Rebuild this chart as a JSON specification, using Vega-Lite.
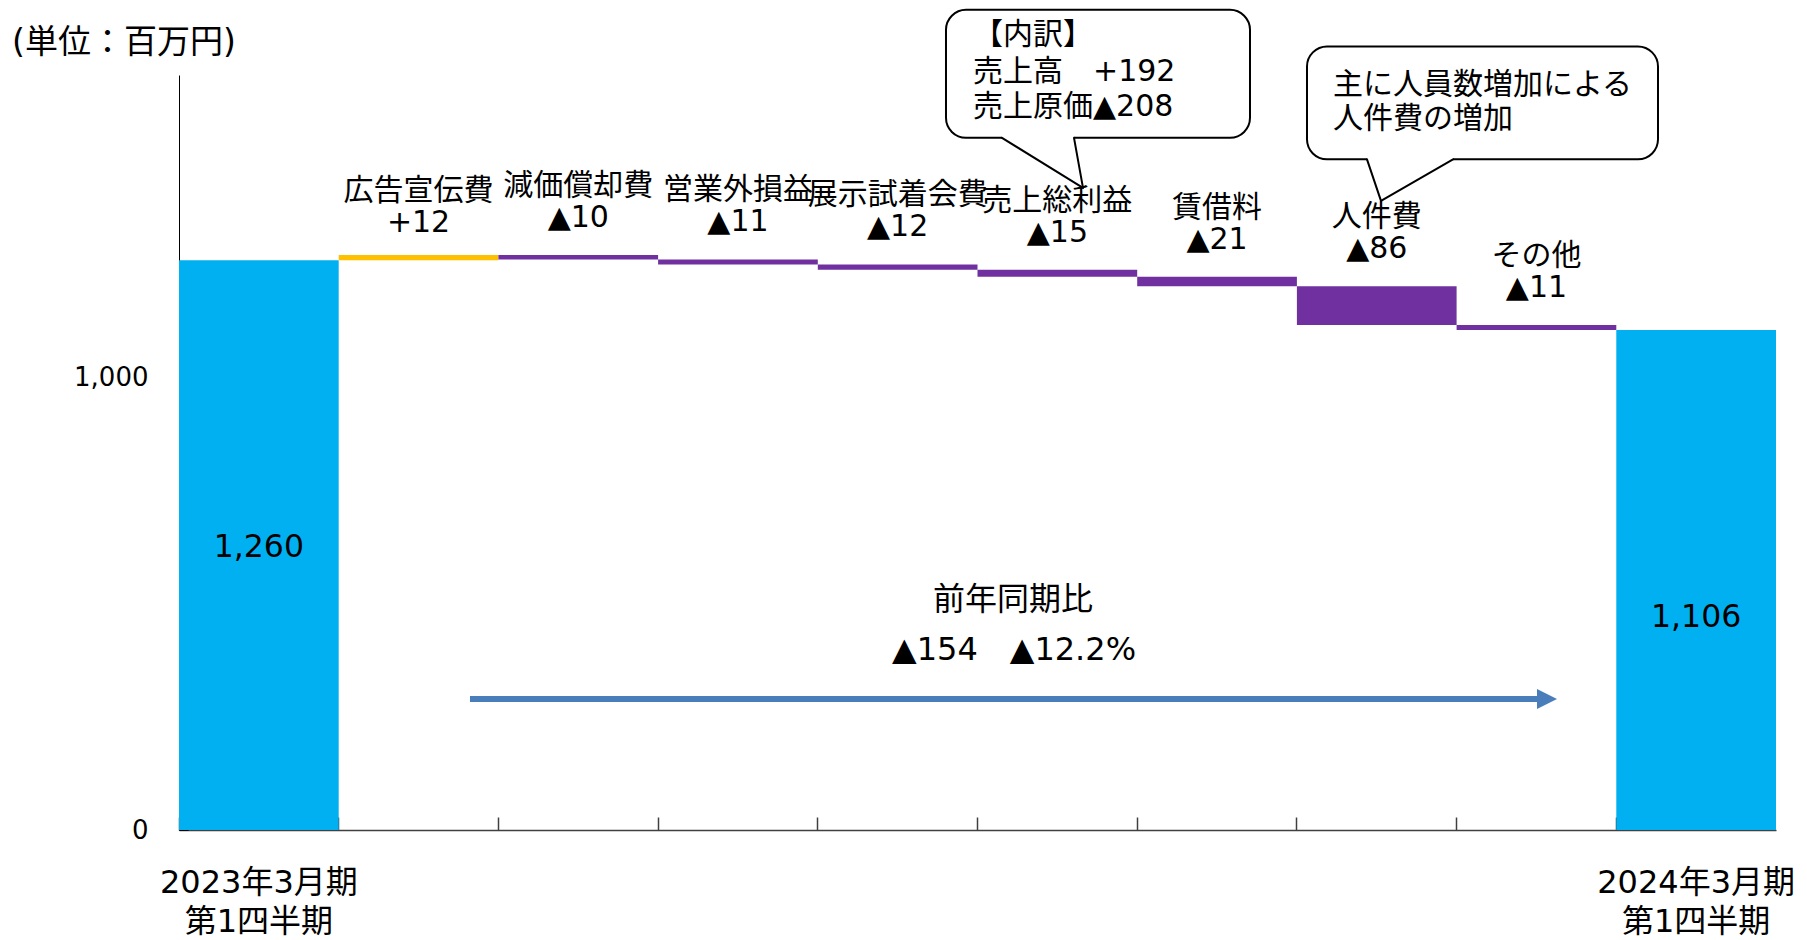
{
  "$schema": "https://vega.github.io/schema/vega-lite/v6.json",
  "width": 1597,
  "height": 755,
  "autosize": {"type": "none"},
  "padding": {"left": 179, "top": 75, "right": 31, "bottom": 110},
  "background": "white",
  "config": {
    "view": {"stroke": null},
    "font": "DejaVu Sans, Noto Sans CJK JP",
    "text": {"font": "DejaVu Sans, Noto Sans CJK JP", "color": "black"},
    "axisY": {
      "grid": false,
      "domainColor": "black",
      "domainWidth": 1,
      "tickColor": "black",
      "tickSize": -9,
      "labelPadding": 40,
      "labelFont": "DejaVu Sans",
      "labelFontSize": 26,
      "labelColor": "black"
    }
  },
  "datasets": {
    "steps": [
      {"item": "2023年3月期 第1四半期", "start": 0, "end": 1260, "kind": "total", "delta": ""},
      {"item": "広告宣伝費", "start": 1260, "end": 1272, "kind": "plus", "delta": "+12"},
      {"item": "減価償却費", "start": 1272, "end": 1262, "kind": "minus", "delta": "▲10"},
      {"item": "営業外損益", "start": 1262, "end": 1251, "kind": "minus", "delta": "▲11"},
      {"item": "展示試着会費", "start": 1251, "end": 1239, "kind": "minus", "delta": "▲12"},
      {"item": "売上総利益", "start": 1239, "end": 1224, "kind": "minus", "delta": "▲15"},
      {"item": "賃借料", "start": 1224, "end": 1203, "kind": "minus", "delta": "▲21"},
      {"item": "人件費", "start": 1203, "end": 1117, "kind": "minus", "delta": "▲86"},
      {"item": "その他", "start": 1117, "end": 1106, "kind": "minus", "delta": "▲11"},
      {"item": "2024年3月期 第1四半期", "start": 0, "end": 1106, "kind": "total", "delta": ""}
    ],
    "boxes": [
      {"x1": 4.8027, "x2": 6.7063, "y1": 1814.2, "y2": 1531.0},
      {"x1": 7.0632, "x2": 9.2611, "y1": 1733.0, "y2": 1483.4}
    ],
    "gaps": [
      {"x1": 5.1534, "x2": 5.6043, "y1": 1531.0, "y2": 1531.0},
      {"x1": 7.4389, "x2": 7.9775, "y1": 1483.4, "y2": 1483.4}
    ],
    "edges": [
      {"x1": 5.1534, "y1": 1531.0, "x2": 5.6606, "y2": 1420.4},
      {"x1": 5.6043, "y1": 1531.0, "x2": 5.6606, "y2": 1420.4},
      {"x1": 7.4389, "y1": 1483.4, "x2": 7.5266, "y2": 1391.6},
      {"x1": 7.9775, "y1": 1483.4, "x2": 7.5266, "y2": 1391.6}
    ],
    "notes": [
      {"x": 4.972, "y": 1758.8, "text": "【内訳】"},
      {"x": 4.972, "y": 1677.0, "text": "売上高　+192"},
      {"x": 4.972, "y": 1599.6, "text": "売上原価▲208"},
      {"x": 7.226, "y": 1648.2, "text": "主に人員数増加による"},
      {"x": 7.226, "y": 1573.0, "text": "人件費の増加"}
    ],
    "unit": [
      {"x": -1.045, "y": 1741.0, "text": "(単位：百万円)"}
    ],
    "center": [
      {"x": 5.222, "y": 508.8, "text": "前年同期比"},
      {"x": 5.229, "y": 398.2, "text": "▲154　▲12.2%"}
    ],
    "arrow": [
      {"x1": 1.822, "x2": 8.51, "hx": 8.566, "y": 289.8}
    ]
  },
  "layer": [
    {
      "data": {"name": "steps"},
      "encoding": {
        "x": {
          "field": "item",
          "type": "nominal",
          "sort": null,
          "scale": {
            "domain": ["2023年3月期 第1四半期", "広告宣伝費", "減価償却費", "営業外損益", "展示試着会費", "売上総利益", "賃借料", "人件費", "その他", "2024年3月期 第1四半期"],
            "paddingInner": 0,
            "paddingOuter": 0
          },
          "axis": {
            "title": null,
            "orient": "bottom",
            "bandPosition": 0,
            "tickSize": -13,
            "labelPadding": 50,
            "labelAngle": 0,
            "labelBaseline": "top",
            "labelLimit": 600,
            "labelExpr": "indexof(datum.label, '四半期') >= 0 ? split(datum.label, ' ') : ''",
            "labelFont": "DejaVu Sans, Noto Sans CJK JP",
            "labelFontSize": 32,
            "labelLineHeight": 39,
            "labelColor": "black",
            "domainColor": "#404040",
            "domainWidth": 1.5,
            "tickColor": "#404040",
            "tickWidth": 1.5,
            "labelOverlap": false,
            "grid": false
          }
        }
      },
      "layer": [
        {
          "mark": {"type": "bar"},
          "encoding": {
            "y": {
              "field": "start",
              "type": "quantitative",
              "title": null,
              "scale": {"domain": [0, 1670], "nice": false},
              "axis": {"title": null, "values": [0, 1000], "labelExpr": "format(datum.value, ',')"}
            },
            "y2": {"field": "end"},
            "color": {
              "field": "kind",
              "type": "nominal",
              "scale": {"domain": ["total", "plus", "minus"], "range": ["#00B0F0", "#FFC000", "#7030A0"]},
              "legend": null
            }
          }
        },
        {
          "transform": [{"filter": "datum.kind != 'total'"}],
          "mark": {"type": "text", "fontSize": 30, "dy": -69, "baseline": "middle", "align": "center"},
          "encoding": {
            "y": {"field": "start", "type": "quantitative", "title": null, "axis": {"title": null, "values": [0, 1000], "labelExpr": "format(datum.value, ',')"}, "scale": {"domain": [0, 1670], "nice": false}},
            "text": {"field": "item"}
          }
        },
        {
          "transform": [{"filter": "datum.kind != 'total'"}],
          "mark": {"type": "text", "fontSize": 30, "dy": -37, "baseline": "middle", "align": "center"},
          "encoding": {
            "y": {"field": "start", "type": "quantitative", "title": null, "axis": {"title": null, "values": [0, 1000], "labelExpr": "format(datum.value, ',')"}, "scale": {"domain": [0, 1670], "nice": false}},
            "text": {"field": "delta"}
          }
        },
        {
          "transform": [{"filter": "datum.kind == 'total'"}],
          "mark": {"type": "text", "fontSize": 31.5, "dy": 288, "baseline": "middle", "align": "center"},
          "encoding": {
            "y": {"field": "end", "type": "quantitative", "title": null, "axis": {"title": null, "values": [0, 1000], "labelExpr": "format(datum.value, ',')"}, "scale": {"domain": [0, 1670], "nice": false}},
            "text": {"field": "end", "type": "quantitative", "format": ","}
          }
        }
      ]
    },
    {
      "layer": [
        {
          "data": {"name": "boxes"},
          "mark": {"type": "rect", "cornerRadius": 20, "fill": "white", "stroke": "black", "strokeWidth": 2},
          "encoding": {
            "x": {"field": "x1", "type": "quantitative", "scale": {"domain": [0, 10], "nice": false, "zero": false}, "axis": null},
            "x2": {"field": "x2"},
            "y": {"field": "y1", "type": "quantitative", "title": null, "scale": {"domain": [0, 1670], "nice": false}, "axis": {"title": null, "values": [0, 1000], "labelExpr": "format(datum.value, ',')"}},
            "y2": {"field": "y2"}
          }
        },
        {
          "data": {"name": "gaps"},
          "mark": {"type": "rule", "stroke": "white", "strokeWidth": 4, "strokeCap": "butt"},
          "encoding": {
            "x": {"field": "x1", "type": "quantitative", "scale": {"domain": [0, 10], "nice": false, "zero": false}, "axis": null},
            "x2": {"field": "x2"},
            "y": {"field": "y1", "type": "quantitative", "title": null, "scale": {"domain": [0, 1670], "nice": false}, "axis": {"title": null, "values": [0, 1000], "labelExpr": "format(datum.value, ',')"}},
            "y2": {"field": "y2"}
          }
        },
        {
          "data": {"name": "edges"},
          "mark": {"type": "rule", "stroke": "black", "strokeWidth": 2, "strokeCap": "round"},
          "encoding": {
            "x": {"field": "x1", "type": "quantitative", "scale": {"domain": [0, 10], "nice": false, "zero": false}, "axis": null},
            "x2": {"field": "x2"},
            "y": {"field": "y1", "type": "quantitative", "title": null, "scale": {"domain": [0, 1670], "nice": false}, "axis": {"title": null, "values": [0, 1000], "labelExpr": "format(datum.value, ',')"}},
            "y2": {"field": "y2"}
          }
        },
        {
          "data": {"name": "notes"},
          "mark": {"type": "text", "fontSize": 30, "align": "left", "baseline": "middle"},
          "encoding": {
            "x": {"field": "x", "type": "quantitative", "scale": {"domain": [0, 10], "nice": false, "zero": false}, "axis": null},
            "y": {"field": "y", "type": "quantitative", "title": null, "scale": {"domain": [0, 1670], "nice": false}, "axis": {"title": null, "values": [0, 1000], "labelExpr": "format(datum.value, ',')"}},
            "text": {"field": "text"}
          }
        },
        {
          "data": {"name": "unit"},
          "mark": {"type": "text", "fontSize": 33, "align": "left", "baseline": "middle"},
          "encoding": {
            "x": {"field": "x", "type": "quantitative", "scale": {"domain": [0, 10], "nice": false, "zero": false}, "axis": null},
            "y": {"field": "y", "type": "quantitative", "title": null, "scale": {"domain": [0, 1670], "nice": false}, "axis": {"title": null, "values": [0, 1000], "labelExpr": "format(datum.value, ',')"}},
            "text": {"field": "text"}
          }
        },
        {
          "data": {"name": "center"},
          "mark": {"type": "text", "fontSize": 32, "align": "center", "baseline": "middle"},
          "encoding": {
            "x": {"field": "x", "type": "quantitative", "scale": {"domain": [0, 10], "nice": false, "zero": false}, "axis": null},
            "y": {"field": "y", "type": "quantitative", "title": null, "scale": {"domain": [0, 1670], "nice": false}, "axis": {"title": null, "values": [0, 1000], "labelExpr": "format(datum.value, ',')"}},
            "text": {"field": "text"}
          }
        },
        {
          "data": {"name": "arrow"},
          "mark": {"type": "rule", "stroke": "#4A7EBB", "strokeWidth": 6, "strokeCap": "butt"},
          "encoding": {
            "x": {"field": "x1", "type": "quantitative", "scale": {"domain": [0, 10], "nice": false, "zero": false}, "axis": null},
            "x2": {"field": "x2"},
            "y": {"field": "y", "type": "quantitative", "title": null, "scale": {"domain": [0, 1670], "nice": false}, "axis": {"title": null, "values": [0, 1000], "labelExpr": "format(datum.value, ',')"}}
          }
        },
        {
          "data": {"name": "arrow"},
          "mark": {"type": "point", "shape": "M-1,-1L1,0L-1,1Z", "size": 400, "filled": true, "fill": "#4A7EBB", "opacity": 1, "strokeWidth": 0},
          "encoding": {
            "x": {"field": "hx", "type": "quantitative", "scale": {"domain": [0, 10], "nice": false, "zero": false}, "axis": null},
            "y": {"field": "y", "type": "quantitative", "title": null, "scale": {"domain": [0, 1670], "nice": false}, "axis": {"title": null, "values": [0, 1000], "labelExpr": "format(datum.value, ',')"}}
          }
        }
      ]
    }
  ],
  "resolve": {"scale": {"x": "independent"}, "axis": {"x": "independent"}}
}
